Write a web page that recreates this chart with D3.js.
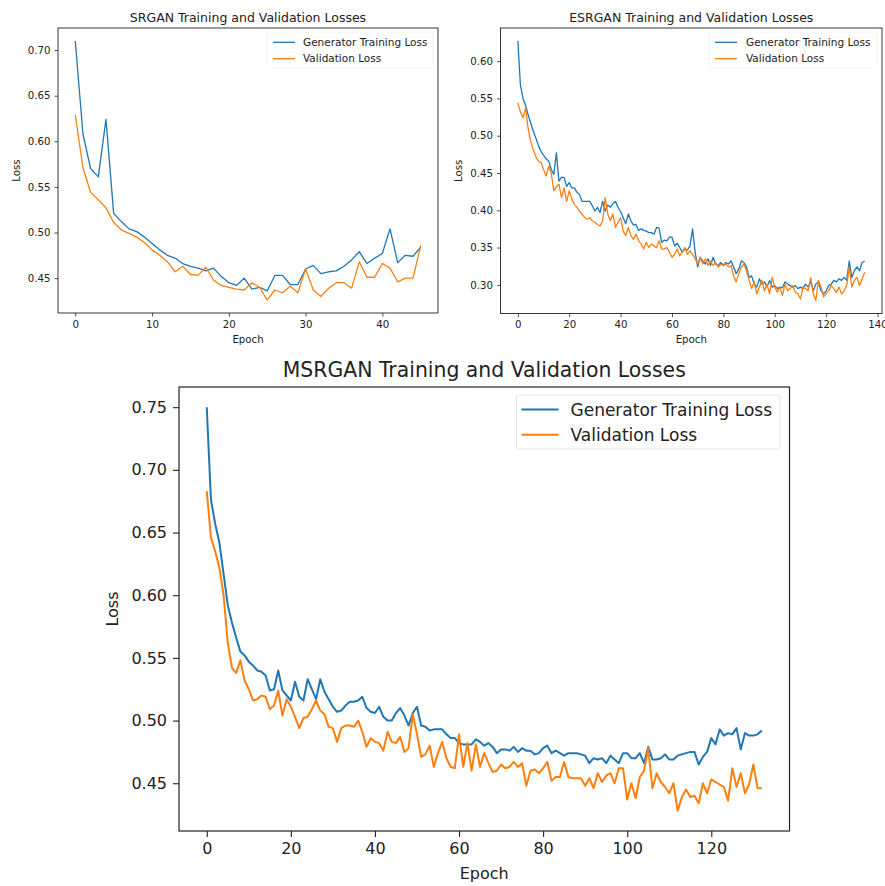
<!DOCTYPE html>
<html>
<head>
<meta charset="utf-8">
<script src="https://cdn.jsdelivr.net/npm/d3@7"></script>
<style>
  body { margin: 0; background: #fff; }
  text { font-family: "DejaVu Sans", sans-serif; fill: #222; }
</style>
</head>
<body>
<svg id="chart" width="885" height="886"></svg>
<script>
// SRGAN, epochs 0..45
const srganTrain = [0.710, 0.608, 0.570, 0.561, 0.624, 0.521, 0.512, 0.504, 0.501, 0.495,
  0.488, 0.481, 0.475, 0.472, 0.466, 0.463, 0.461, 0.458, 0.461, 0.452,
  0.445, 0.442, 0.450, 0.438, 0.440, 0.436, 0.453, 0.453, 0.443, 0.443,
  0.460, 0.464, 0.455, 0.457, 0.458, 0.463, 0.470, 0.479, 0.466, 0.472,
  0.477, 0.504, 0.467, 0.475, 0.474, 0.484];
const srganVal = [0.629, 0.571, 0.544, 0.536, 0.527, 0.511, 0.503, 0.499, 0.495, 0.489,
  0.481, 0.475, 0.468, 0.457, 0.463, 0.454, 0.453, 0.462, 0.448, 0.442,
  0.440, 0.438, 0.437, 0.445, 0.440, 0.426, 0.437, 0.434, 0.441, 0.434,
  0.460, 0.437, 0.430, 0.439, 0.445, 0.445, 0.439, 0.468, 0.451, 0.451,
  0.466, 0.461, 0.446, 0.450, 0.450, 0.486];

// ESRGAN, epochs 0..135
const esrganTrain = [0.627, 0.568, 0.550, 0.541, 0.528, 0.517, 0.506, 0.497, 0.487, 0.479,
  0.474, 0.469, 0.466, 0.455, 0.448, 0.477, 0.439, 0.444, 0.444, 0.432,
  0.437, 0.430, 0.430, 0.424, 0.421, 0.412, 0.412, 0.412, 0.412, 0.406,
  0.399, 0.404, 0.397, 0.412, 0.399, 0.407, 0.404, 0.409, 0.412, 0.404,
  0.398, 0.390, 0.382, 0.395, 0.386, 0.380, 0.381, 0.373, 0.375, 0.373,
  0.372, 0.370, 0.370, 0.368, 0.377, 0.376, 0.357, 0.360, 0.359, 0.364,
  0.364, 0.352, 0.356, 0.350, 0.344, 0.348, 0.347, 0.352, 0.375, 0.344,
  0.324, 0.337, 0.332, 0.328, 0.335, 0.326, 0.337, 0.328, 0.326, 0.330,
  0.326, 0.330, 0.328, 0.332, 0.324, 0.315, 0.321, 0.332, 0.330, 0.324,
  0.310, 0.312, 0.301, 0.297, 0.308, 0.301, 0.304, 0.297, 0.306, 0.297,
  0.299, 0.295, 0.297, 0.296, 0.304, 0.301, 0.299, 0.297, 0.299, 0.295,
  0.297, 0.295, 0.301, 0.297, 0.304, 0.292, 0.301, 0.304, 0.292, 0.288,
  0.292, 0.299, 0.301, 0.306, 0.304, 0.308, 0.306, 0.310, 0.306, 0.332,
  0.310, 0.319, 0.324, 0.319, 0.330, 0.332];
const esrganVal = [0.544, 0.532, 0.524, 0.537, 0.510, 0.492, 0.481, 0.472, 0.466, 0.464,
  0.455, 0.446, 0.459, 0.450, 0.426, 0.432, 0.435, 0.417, 0.430, 0.412,
  0.426, 0.415, 0.408, 0.404, 0.399, 0.395, 0.390, 0.388, 0.390, 0.386,
  0.384, 0.381, 0.379, 0.386, 0.417, 0.395, 0.386, 0.395, 0.377, 0.384,
  0.390, 0.372, 0.366, 0.377, 0.366, 0.361, 0.368, 0.359, 0.355, 0.348,
  0.357, 0.350, 0.355, 0.352, 0.350, 0.359, 0.348, 0.348, 0.350, 0.344,
  0.337, 0.341, 0.348, 0.339, 0.344, 0.350, 0.341, 0.346, 0.341, 0.335,
  0.328, 0.337, 0.328, 0.335, 0.326, 0.332, 0.326, 0.330, 0.324, 0.328,
  0.326, 0.328, 0.324, 0.326, 0.312, 0.304, 0.315, 0.324, 0.328, 0.319,
  0.306, 0.295, 0.304, 0.288, 0.297, 0.306, 0.292, 0.301, 0.288, 0.310,
  0.297, 0.290, 0.297, 0.286, 0.301, 0.292, 0.295, 0.299, 0.290, 0.288,
  0.281, 0.297, 0.295, 0.292, 0.310, 0.288, 0.279, 0.306, 0.297, 0.284,
  0.288, 0.292, 0.299, 0.295, 0.290, 0.297, 0.288, 0.292, 0.299, 0.324,
  0.297, 0.306, 0.310, 0.299, 0.308, 0.317];

// MSRGAN, epochs 0..132
const msrganTrain = [0.750, 0.676, 0.657, 0.642, 0.617, 0.592, 0.578, 0.566, 0.555, 0.552,
  0.547, 0.544, 0.540, 0.539, 0.536, 0.524, 0.525, 0.540, 0.524, 0.520,
  0.516, 0.531, 0.519, 0.516, 0.533, 0.525, 0.517, 0.533, 0.523, 0.517,
  0.511, 0.507, 0.508, 0.512, 0.515, 0.515, 0.516, 0.519, 0.510, 0.507,
  0.506, 0.511, 0.503, 0.500, 0.500, 0.506, 0.510, 0.504, 0.496, 0.506,
  0.511, 0.496, 0.495, 0.492, 0.493, 0.493, 0.493, 0.489, 0.486, 0.486,
  0.482, 0.481, 0.481, 0.481, 0.485, 0.483, 0.480, 0.482, 0.479, 0.474,
  0.477, 0.477, 0.476, 0.479, 0.475, 0.478, 0.476, 0.476, 0.473, 0.474,
  0.478, 0.480, 0.474, 0.476, 0.474, 0.472, 0.474, 0.474, 0.474, 0.473,
  0.472, 0.466, 0.470, 0.469, 0.470, 0.466, 0.472, 0.469, 0.466, 0.474,
  0.474, 0.470, 0.470, 0.474, 0.466, 0.479, 0.469, 0.469, 0.470, 0.473,
  0.469, 0.469, 0.472, 0.473, 0.474, 0.475, 0.475, 0.465, 0.471, 0.475,
  0.486, 0.481, 0.493, 0.488, 0.490, 0.489, 0.494, 0.477, 0.490, 0.488,
  0.488, 0.489, 0.492];
const msrganVal = [0.683, 0.646, 0.635, 0.622, 0.600, 0.562, 0.542, 0.538, 0.548, 0.532,
  0.525, 0.516, 0.517, 0.520, 0.519, 0.509, 0.512, 0.524, 0.504, 0.517,
  0.511, 0.503, 0.494, 0.502, 0.503, 0.509, 0.516, 0.508, 0.505, 0.495,
  0.494, 0.483, 0.494, 0.496, 0.496, 0.495, 0.500, 0.491, 0.479, 0.486,
  0.483, 0.482, 0.476, 0.491, 0.483, 0.482, 0.487, 0.475, 0.478, 0.505,
  0.489, 0.471, 0.473, 0.480, 0.463, 0.474, 0.483, 0.470, 0.463, 0.462,
  0.489, 0.463, 0.482, 0.460, 0.481, 0.463, 0.474, 0.466, 0.459, 0.460,
  0.465, 0.462, 0.463, 0.467, 0.463, 0.466, 0.448, 0.460, 0.461, 0.458,
  0.462, 0.467, 0.452, 0.455, 0.455, 0.467, 0.455, 0.454, 0.454, 0.454,
  0.448, 0.454, 0.446, 0.458, 0.451, 0.456, 0.458, 0.450, 0.462, 0.462,
  0.437, 0.450, 0.438, 0.455, 0.460, 0.478, 0.446, 0.458, 0.451, 0.447,
  0.442, 0.450, 0.428, 0.439, 0.445, 0.439, 0.440, 0.434, 0.450, 0.442,
  0.453, 0.451, 0.449, 0.447, 0.436, 0.462, 0.447, 0.458, 0.442, 0.449,
  0.465, 0.446, 0.446];

const seriesNames = ["Generator Training Loss", "Validation Loss"];
const seriesColors = ["#1f77b4", "#ff7f0e"];

const srganXTicks = [0, 10, 20, 30, 40];
const srganYTicks = [0.45, 0.50, 0.55, 0.60, 0.65, 0.70];
const esrganXTicks = [0, 20, 40, 60, 80, 100, 120, 140];
const esrganYTicks = [0.30, 0.35, 0.40, 0.45, 0.50, 0.55, 0.60];
const msrganXTicks = [0, 20, 40, 60, 80, 100, 120];
const msrganYTicks = [0.45, 0.50, 0.55, 0.60, 0.65, 0.70, 0.75];

const svg = d3.select("#chart");

const panels = [
  {
    title: "SRGAN Training and Validation Losses", series: [srganTrain, srganVal],
    xTicks: srganXTicks, yTicks: srganYTicks,
    box: {l: 58, t: 28, r: 438, b: 313},
    titleY: 22, xLabelY: 343, yLabelX: 20,
    fs: {title: 12.5, tick: 10.2, label: 10.2, legend: 10.5},
    tick: 3.5, pad: 4, lw: 1.3,
    legend: {x: 267, y: 32, w: 166, h: 36, hx: 273, hw: 22, tx: 303, row0: 42.3, dy: 16.4, edge: "#f0f0f0"}
  },
  {
    title: "ESRGAN Training and Validation Losses", series: [esrganTrain, esrganVal],
    xTicks: esrganXTicks, yTicks: esrganYTicks,
    box: {l: 500.5, t: 28, r: 882, b: 313.5},
    titleY: 22, xLabelY: 343, yLabelX: 462,
    fs: {title: 12.5, tick: 10.2, label: 10.2, legend: 10.5},
    tick: 3.5, pad: 4, lw: 1.3,
    legend: {x: 709, y: 32, w: 168, h: 36, hx: 715, hw: 22, tx: 746, row0: 42.3, dy: 16.4, edge: "#f0f0f0"}
  },
  {
    title: "MSRGAN Training and Validation Losses", series: [msrganTrain, msrganVal],
    xTicks: msrganXTicks, yTicks: msrganYTicks,
    box: {l: 179, t: 387, r: 789.5, b: 831},
    titleY: 377, xLabelY: 879, yLabelX: 118,
    fs: {title: 20.4, tick: 16, label: 16, legend: 17},
    tick: 6, pad: 6, lw: 2,
    legend: {x: 516.5, y: 395, w: 263.5, h: 54, hx: 521.5, hw: 37, tx: 570.5, row0: 409.5, dy: 25.3, edge: "#ddd"}
  }
];

// matplotlib style 5% margin around the data
function padded(lo, hi) {
  const m = (hi - lo) * 0.05;
  return [lo - m, hi + m];
}

function drawPanel(p) {
  const n = p.series[0].length;
  const all = p.series[0].concat(p.series[1]);
  const x = d3.scaleLinear().domain(padded(0, n - 1)).range([p.box.l, p.box.r]);
  const y = d3.scaleLinear().domain(padded(d3.min(all), d3.max(all))).range([p.box.b, p.box.t]);
  const g = svg.append("g");

  // axes
  const xAxis = g.append("g")
    .attr("transform", "translate(0," + p.box.b + ")")
    .call(d3.axisBottom(x).tickValues(p.xTicks).tickFormat(d3.format("d"))
      .tickSize(p.tick).tickPadding(p.pad));
  const yAxis = g.append("g")
    .attr("transform", "translate(" + p.box.l + ",0)")
    .call(d3.axisLeft(y).tickValues(p.yTicks).tickFormat(d3.format(".2f"))
      .tickSize(p.tick).tickPadding(p.pad));
  [xAxis, yAxis].forEach(a => {
    a.select(".domain").remove();
    a.selectAll(".tick line").attr("stroke", "#222").attr("stroke-width", p.lw > 1.5 ? 1.1 : 0.8);
    a.selectAll(".tick text")
      .style("font-family", "DejaVu Sans")
      .style("font-size", p.fs.tick + "px")
      .attr("fill", "#222");
  });

  // lines
  const line = d3.line().x((d, i) => x(i)).y(d => y(d));
  p.series.forEach((s, k) => {
    g.append("path")
      .datum(s)
      .attr("d", line)
      .attr("fill", "none")
      .attr("stroke", seriesColors[k])
      .attr("stroke-width", p.lw)
      .attr("stroke-linejoin", "round");
  });

  // frame
  g.append("rect")
    .attr("x", p.box.l).attr("y", p.box.t)
    .attr("width", p.box.r - p.box.l).attr("height", p.box.b - p.box.t)
    .attr("fill", "none").attr("stroke", "#222")
    .attr("stroke-width", p.lw > 1.5 ? 1.2 : 0.9);

  // legend
  const L = p.legend;
  const lg = g.append("g");
  lg.append("rect")
    .attr("x", L.x).attr("y", L.y).attr("width", L.w).attr("height", L.h).attr("rx", 2)
    .attr("fill", "#fff").attr("fill-opacity", 0.8)
    .attr("stroke", L.edge).attr("stroke-width", 0.8);
  seriesNames.forEach((name, k) => {
    const ry = L.row0 + k * L.dy;
    lg.append("line")
      .attr("x1", L.hx).attr("x2", L.hx + L.hw)
      .attr("y1", ry).attr("y2", ry)
      .attr("stroke", seriesColors[k]).attr("stroke-width", p.lw);
    lg.append("text")
      .attr("x", L.tx).attr("y", ry)
      .attr("dy", "0.36em")
      .style("font-size", p.fs.legend + "px")
      .text(name);
  });

  // texts
  const cx = (p.box.l + p.box.r) / 2;
  g.append("text")
    .attr("x", cx).attr("y", p.titleY)
    .attr("text-anchor", "middle")
    .style("font-size", p.fs.title + "px")
    .text(p.title);
  g.append("text")
    .attr("x", cx).attr("y", p.xLabelY)
    .attr("text-anchor", "middle")
    .style("font-size", p.fs.label + "px")
    .text("Epoch");
  g.append("text")
    .attr("transform", "translate(" + p.yLabelX + "," + ((p.box.t + p.box.b) / 2) + ") rotate(-90)")
    .attr("text-anchor", "middle")
    .style("font-size", p.fs.label + "px")
    .text("Loss");
}

panels.forEach(drawPanel);
</script>
</body>
</html>
